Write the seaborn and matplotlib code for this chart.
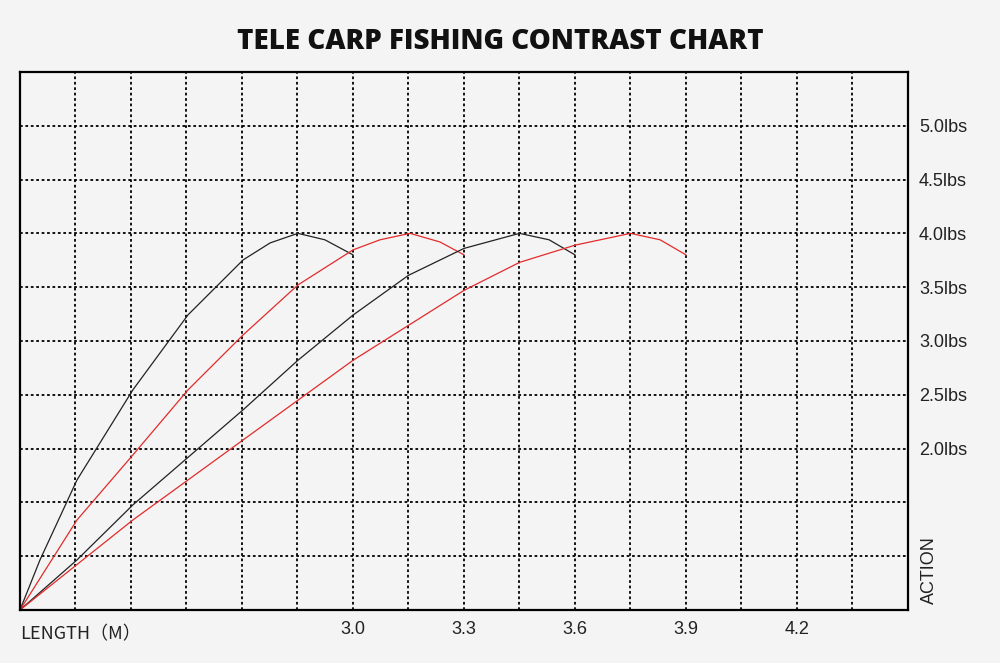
import matplotlib
matplotlib.use("Agg")
import matplotlib.pyplot as plt
import seaborn as sns
import numpy as np
import pandas as pd

sns.set_style("white")
plt.rcParams['font.family'] = ['Liberation Sans', 'DejaVu Sans']

c1_x = [2.1, 2.154, 2.254, 2.405, 2.554, 2.703, 2.776, 2.851, 2.924, 3.0]
c1_y = [0.5, 0.965, 1.708, 2.545, 3.242, 3.753, 3.911, 4.0, 3.94, 3.80]
c2_x = [2.1, 2.254, 2.405, 2.554, 2.703, 2.851, 3.0, 3.073, 3.154, 3.235, 3.3]
c2_y = [0.5, 1.336, 1.94, 2.545, 3.056, 3.52, 3.846, 3.94, 4.0, 3.92, 3.80]
c3_x = [2.1, 2.254, 2.405, 2.703, 2.851, 3.0, 3.15, 3.3, 3.45, 3.53, 3.6]
c3_y = [0.5, 0.965, 1.476, 2.36, 2.82, 3.24, 3.61, 3.86, 4.0, 3.94, 3.80]
c4_x = [2.1, 2.405, 2.703, 3.0, 3.3, 3.45, 3.6, 3.75, 3.83, 3.9]
c4_y = [0.5, 1.336, 2.08, 2.82, 3.47, 3.73, 3.89, 4.0, 3.94, 3.80]
x_ticks = [3.0, 3.3, 3.6, 3.9, 4.2]
y_ticks = [2.0, 2.5, 3.0, 3.5, 4.0, 4.5, 5.0]

bg = '#f4f4f4'
fig = plt.figure(figsize=(10, 6.63), dpi=100, facecolor=bg)
ax = fig.add_axes([0.02, 0.08, 0.888, 0.8115], facecolor=bg)

ls = (0, (1.5, 1.5))
for gx in np.arange(2.25, 4.45, 0.15):
    ax.axvline(gx, color='black', linestyle=ls, lw=1.3, zorder=0)
for gy in np.arange(1.0, 5.45, 0.5):
    ax.axhline(gy, color='black', linestyle=ls, lw=1.3, zorder=0)

for xs, ys, col in [(c1_x, c1_y, '#222222'), (c2_x, c2_y, '#e32b2b'),
                    (c3_x, c3_y, '#222222'), (c4_x, c4_y, '#e32b2b')]:
    df = pd.DataFrame({'x': xs, 'y': ys})
    sns.lineplot(data=df, x='x', y='y', ax=ax, color=col, lw=0.9, sort=False)

ax.set_xlim(2.1, 4.5)
ax.set_ylim(0.5, 5.5)
ax.set_xticks(x_ticks)
ax.set_xticklabels([f"{v:.1f}" for v in x_ticks])
ax.yaxis.tick_right()
ax.set_yticks(y_ticks)
ax.set_yticklabels([f"{v:.1f}lbs" for v in y_ticks])
ax.tick_params(length=0, labelsize=13, colors='#222222', pad=8)
ax.set_xlabel(''); ax.set_ylabel('')
for s in ax.spines.values():
    s.set_color('black'); s.set_linewidth(1.6); s.set_visible(True)

fig.text(0.5, 0.937, 'TELE CARP FISHING CONTRAST CHART', ha='center', va='center',
         fontsize=20, fontweight='heavy', color='#111111', family=['Open Sans', 'DejaVu Sans'])
fig.text(0.02, 0.043, 'LENGTH\uff08M\uff09', ha='left', va='center', fontsize=13,
         color='#222222', family=['Noto Sans CJK SC', 'DejaVu Sans'])
fig.text(0.929, 0.14, 'ACTION', rotation=90, ha='center', va='center',
         fontsize=13, color='#222222')

fig.savefig('out.png', dpi=100, facecolor=bg)
